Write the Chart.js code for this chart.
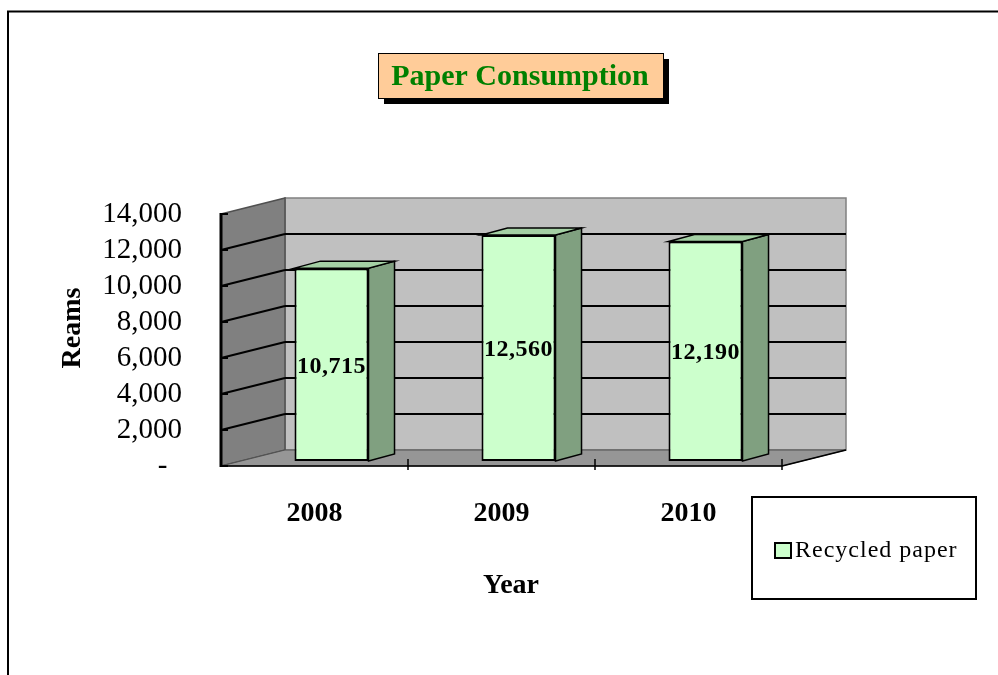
<!DOCTYPE html>
<html>
<head>
<meta charset="utf-8">
<title>Paper Consumption</title>
<script src="https://cdn.jsdelivr.net/npm/chart.js@4.4.1/dist/chart.umd.min.js"></script>
<style>
  html, body { margin: 0; padding: 0; background: #fff; }
  canvas { display: block; }
</style>
</head>
<body>
<canvas id="paperChart" width="998" height="675"></canvas>
<script>
const years = ['2008', '2009', '2010'];
const reams = [10715, 12560, 12190];
const yTickValues = [0, 2000, 4000, 6000, 8000, 10000, 12000, 14000];
const seriesName = 'Recycled paper';
const chartTitle = 'Paper Consumption';
const yTitle = 'Reams';
const xTitle = 'Year';

// fake 3D offsets (front plane -> back wall, and bar plane / bar depth)
const WALL_DX = 64, WALL_DY = -16;
const BAR_DX = 17, BAR_DY = -5;
const BAR_DEPTH_X = 26, BAR_DEPTH_Y = -7;

const SERIF = '"Liberation Serif", "Times New Roman", serif';
const FRONT = '#ccffcc', SIDE = '#80a080', TOP = '#a4d0a4';

function poly(ctx, pts, fill, stroke, width) {
  ctx.beginPath();
  ctx.moveTo(pts[0][0], pts[0][1]);
  for (let i = 1; i < pts.length; i++) ctx.lineTo(pts[i][0], pts[i][1]);
  ctx.closePath();
  if (fill) { ctx.fillStyle = fill; ctx.fill(); }
  if (stroke) { ctx.strokeStyle = stroke; ctx.lineWidth = width || 1; ctx.stroke(); }
}

function line(ctx, x1, y1, x2, y2, color, width) {
  ctx.beginPath();
  ctx.moveTo(x1, y1);
  ctx.lineTo(x2, y2);
  ctx.strokeStyle = color;
  ctx.lineWidth = width;
  ctx.stroke();
}

// Walls, floor and gridlines
const walls3d = {
  id: 'walls3d',
  beforeDraw(chart) {
    const { ctx, chartArea: a, scales: { y } } = chart;
    const top = y.getPixelForValue(yTickValues[yTickValues.length - 1]);
    const bottom = y.getPixelForValue(0);
    const bx = a.left + WALL_DX, rx = a.right + WALL_DX;
    ctx.save();

    // outer frame
    ctx.beginPath();
    ctx.moveTo(8, 700);
    ctx.lineTo(8, 11.5);
    ctx.lineTo(1010, 11.5);
    ctx.strokeStyle = '#000';
    ctx.lineWidth = 2;
    ctx.stroke();

    // back wall
    poly(ctx, [[bx, top + WALL_DY], [rx, top + WALL_DY], [rx, bottom + WALL_DY], [bx, bottom + WALL_DY]], '#c0c0c0', '#808080', 1.5);
    // side wall
    poly(ctx, [[a.left, top], [bx, top + WALL_DY], [bx, bottom + WALL_DY], [a.left, bottom]], '#808080', '#505050', 1.5);
    // floor
    poly(ctx, [[a.left, bottom], [a.right, bottom], [rx, bottom + WALL_DY], [bx, bottom + WALL_DY]], '#969696', '#505050', 1);

    yTickValues.forEach(v => {
      const py = y.getPixelForValue(v);
      if (v !== 0 && v !== yTickValues[yTickValues.length - 1]) {
        line(ctx, bx, py + WALL_DY, rx, py + WALL_DY, '#000', 2);
        line(ctx, a.left, py, bx, py + WALL_DY, '#000', 2);
      }
      line(ctx, a.left, py, a.left + 7, py, '#000', 2);
    });

    // front edges
    line(ctx, a.left, top - 1, a.left, bottom + 1, '#000', 3);
    line(ctx, a.left, bottom, a.right, bottom, '#000', 1.5);
    line(ctx, a.right, bottom, rx, bottom + WALL_DY, '#000', 1.5);
    ctx.restore();
  },
  afterDraw(chart) {
    const { ctx, chartArea: a } = chart;
    const w = a.width / years.length;
    ctx.save();
    for (let k = 1; k <= years.length; k++) {
      const px = a.left + k * w;
      line(ctx, px, a.bottom - 7, px, a.bottom + 4, '#000', 1.5);
    }
    ctx.restore();
  }
};

// Bars pushed back into the box, with top and side faces plus value labels
const bars3d = {
  id: 'bars3d',
  beforeDatasetsDraw(chart) {
    chart.ctx.save();
    chart.ctx.translate(BAR_DX, BAR_DY);
  },
  afterDatasetsDraw(chart) {
    const ctx = chart.ctx;
    const meta = chart.getDatasetMeta(0);
    meta.data.forEach((bar, i) => {
      const { x, y, base, width } = bar.getProps(['x', 'y', 'base', 'width'], true);
      const l = x - width / 2, r = x + width / 2;
      poly(ctx, [[r, y], [r + BAR_DEPTH_X, y + BAR_DEPTH_Y], [r + BAR_DEPTH_X, base + BAR_DEPTH_Y], [r, base]], SIDE, '#000', 1.5);
      poly(ctx, [[l, y], [l + BAR_DEPTH_X, y + BAR_DEPTH_Y], [r + BAR_DEPTH_X, y + BAR_DEPTH_Y], [r, y]], TOP, '#000', 1.5);
      ctx.fillStyle = '#000';
      ctx.font = 'bold 24px ' + SERIF;
      ctx.letterSpacing = '0.5px';
      ctx.textAlign = 'center';
      ctx.textBaseline = 'middle';
      ctx.fillText(reams[i].toLocaleString('en-US'), x, (y + base) / 2 + 2);
    });
    ctx.restore();
  }
};

// Title box, axis titles and legend box
const decorations = {
  id: 'decorations',
  afterDraw(chart) {
    const ctx = chart.ctx;
    ctx.save();
    // title with shadow
    ctx.fillStyle = '#000';
    ctx.fillRect(384, 59, 285, 45);
    ctx.fillStyle = '#ffcc99';
    ctx.fillRect(378, 53, 285, 45);
    ctx.strokeStyle = '#000';
    ctx.lineWidth = 1;
    ctx.strokeRect(378.5, 53.5, 285, 45);
    ctx.fillStyle = '#008000';
    ctx.font = 'bold 30px ' + SERIF;
    ctx.textAlign = 'center';
    ctx.textBaseline = 'middle';
    ctx.fillText(chartTitle, 520, 77);

    // axis titles
    ctx.fillStyle = '#000';
    ctx.font = 'bold 28px ' + SERIF;
    ctx.fillText(xTitle, 511, 586);
    ctx.save();
    ctx.translate(73, 328);
    ctx.rotate(-Math.PI / 2);
    ctx.fillText(yTitle, 0, 0);
    ctx.restore();

    // legend
    ctx.fillStyle = '#fff';
    ctx.fillRect(752, 497, 224, 102);
    ctx.lineWidth = 2;
    ctx.strokeStyle = '#000';
    ctx.strokeRect(752, 497, 224, 102);
    ctx.fillStyle = FRONT;
    ctx.fillRect(775, 543, 16, 15);
    ctx.strokeRect(775, 543, 16, 15);
    ctx.fillStyle = '#000';
    ctx.font = '24px ' + SERIF;
    ctx.letterSpacing = '1px';
    ctx.textAlign = 'left';
    ctx.fillText(chart.data.datasets[0].label, 795, 551);
    ctx.restore();
  }
};

const ctx = document.getElementById('paperChart').getContext('2d');
const paperChart = new Chart(ctx, {
  type: 'bar',
  data: {
    labels: years,
    datasets: [{
      label: seriesName,
      data: reams,
      backgroundColor: FRONT,
      borderColor: '#000',
      borderWidth: 2,
      borderSkipped: false,
      barPercentage: 1,
      categoryPercentage: 0.396,
      clip: false
    }]
  },
  options: {
    responsive: false,
    animation: false,
    layout: {
      padding: { top: 214, left: 10, right: 216, bottom: 0 }
    },
    plugins: {
      legend: { display: false },
      title: { display: false },
      tooltip: { enabled: false }
    },
    scales: {
      x: {
        grid: { display: false, drawTicks: false },
        border: { display: false },
        afterFit(scale) { scale.height = 209; },
        ticks: {
          color: '#000',
          padding: 31,
          font: { family: SERIF, size: 28, weight: 'bold' }
        }
      },
      y: {
        min: 0,
        max: 14000,
        grid: { display: false, drawTicks: false },
        border: { display: false },
        afterFit(scale) { scale.width = 211; },
        afterBuildTicks(scale) {
          scale.ticks = yTickValues.map(v => ({ value: v }));
        },
        ticks: {
          color: '#000',
          padding: 39,
          autoSkip: false,
          font: { family: SERIF, size: 29 },
          callback: v => v === 0 ? '-  ' : Number(v).toLocaleString('en-US')
        }
      }
    }
  },
  plugins: [walls3d, bars3d, decorations]
});
</script>
</body>
</html>
